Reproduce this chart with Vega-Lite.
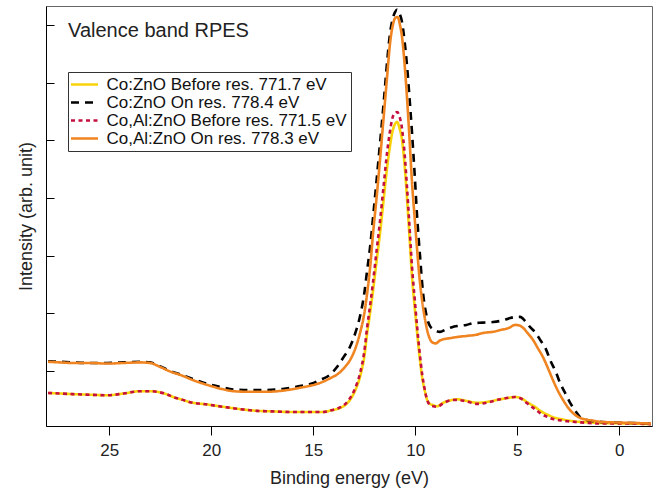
{
"$schema": "https://vega.github.io/schema/vega-lite/v6.json",
"width": 606, "height": 420,
"autosize": {"type": "none"},
"padding": {"left": 46, "top": 6, "right": 4, "bottom": 66},
"config": {"font": "Liberation Sans", "view": {"stroke": "#666", "strokeWidth": 1}},
"datasets": {"spec": [
{"s":"a","E":28.0,"I":0.62},{"s":"a","E":27.4,"I":0.61},{"s":"a","E":26.8,"I":0.60},{"s":"a","E":26.0,"I":0.59},{"s":"a","E":25.1,"I":0.58},{"s":"a","E":24.3,"I":0.61},{"s":"a","E":23.5,"I":0.65},{"s":"a","E":23.0,"I":0.65},{"s":"a","E":22.66,"I":0.64},{"s":"a","E":22.2,"I":0.60},{"s":"a","E":21.87,"I":0.55},{"s":"a","E":21.4,"I":0.50},{"s":"a","E":21.04,"I":0.46},{"s":"a","E":20.2,"I":0.42},{"s":"a","E":19.42,"I":0.38},{"s":"a","E":18.6,"I":0.34},{"s":"a","E":17.76,"I":0.31},{"s":"a","E":17.0,"I":0.30},{"s":"a","E":16.14,"I":0.29},{"s":"a","E":15.3,"I":0.29},{"s":"a","E":14.52,"I":0.29},{"s":"a","E":14.1,"I":0.32},{"s":"a","E":13.69,"I":0.36},{"s":"a","E":13.4,"I":0.42},{"s":"a","E":13.2,"I":0.50},{"s":"a","E":12.95,"I":0.66},{"s":"a","E":12.71,"I":0.90},{"s":"a","E":12.5,"I":1.25},{"s":"a","E":12.36,"I":1.66},{"s":"a","E":12.2,"I":2.05},{"s":"a","E":12.07,"I":2.40},{"s":"a","E":11.9,"I":2.90},{"s":"a","E":11.73,"I":3.39},{"s":"a","E":11.55,"I":3.98},{"s":"a","E":11.38,"I":4.54},{"s":"a","E":11.25,"I":4.88},{"s":"a","E":11.14,"I":5.12},{"s":"a","E":11.0,"I":5.28},{"s":"a","E":10.89,"I":5.32},{"s":"a","E":10.78,"I":5.22},{"s":"a","E":10.65,"I":5.0},{"s":"a","E":10.52,"I":4.55},{"s":"a","E":10.40,"I":3.96},{"s":"a","E":10.28,"I":3.30},{"s":"a","E":10.16,"I":2.63},{"s":"a","E":10.03,"I":2.1},{"s":"a","E":9.91,"I":1.66},{"s":"a","E":9.79,"I":1.25},{"s":"a","E":9.67,"I":0.90},{"s":"a","E":9.55,"I":0.68},{"s":"a","E":9.42,"I":0.50},{"s":"a","E":9.28,"I":0.43},{"s":"a","E":9.13,"I":0.41},{"s":"a","E":8.93,"I":0.39},{"s":"a","E":8.64,"I":0.45},{"s":"a","E":8.3,"I":0.49},{"s":"a","E":7.95,"I":0.51},{"s":"a","E":7.46,"I":0.48},{"s":"a","E":6.97,"I":0.45},{"s":"a","E":6.4,"I":0.47},{"s":"a","E":5.84,"I":0.51},{"s":"a","E":5.35,"I":0.54},{"s":"a","E":5.11,"I":0.55},{"s":"a","E":4.72,"I":0.51},{"s":"a","E":4.52,"I":0.46},{"s":"a","E":4.1,"I":0.37},{"s":"a","E":3.88,"I":0.31},{"s":"a","E":3.5,"I":0.24},{"s":"a","E":3.25,"I":0.20},{"s":"a","E":2.76,"I":0.16},{"s":"a","E":2.27,"I":0.13},{"s":"a","E":1.5,"I":0.11},{"s":"a","E":0.94,"I":0.10},{"s":"a","E":-0.5,"I":0.09},{"s":"a","E":-1.55,"I":0.08},
{"s":"b","E":28.0,"I":1.17},{"s":"b","E":27.4,"I":1.16},{"s":"b","E":26.8,"I":1.15},{"s":"b","E":26.0,"I":1.14},{"s":"b","E":25.1,"I":1.14},{"s":"b","E":24.3,"I":1.15},{"s":"b","E":23.5,"I":1.16},{"s":"b","E":23.0,"I":1.15},{"s":"b","E":22.5,"I":1.08},{"s":"b","E":22.0,"I":1.0},{"s":"b","E":21.5,"I":0.94},{"s":"b","E":20.8,"I":0.85},{"s":"b","E":20.2,"I":0.78},{"s":"b","E":19.5,"I":0.72},{"s":"b","E":18.9,"I":0.68},{"s":"b","E":18.1,"I":0.67},{"s":"b","E":17.3,"I":0.67},{"s":"b","E":16.5,"I":0.69},{"s":"b","E":15.65,"I":0.74},{"s":"b","E":15.1,"I":0.78},{"s":"b","E":14.7,"I":0.84},{"s":"b","E":14.2,"I":0.93},{"s":"b","E":13.84,"I":1.07},{"s":"b","E":13.5,"I":1.25},{"s":"b","E":13.2,"I":1.42},{"s":"b","E":12.95,"I":1.65},{"s":"b","E":12.71,"I":1.95},{"s":"b","E":12.5,"I":2.35},{"s":"b","E":12.36,"I":2.75},{"s":"b","E":12.2,"I":3.2},{"s":"b","E":12.07,"I":3.67},{"s":"b","E":11.9,"I":4.3},{"s":"b","E":11.73,"I":4.95},{"s":"b","E":11.6,"I":5.45},{"s":"b","E":11.48,"I":5.95},{"s":"b","E":11.36,"I":6.45},{"s":"b","E":11.24,"I":6.85},{"s":"b","E":11.1,"I":7.12},{"s":"b","E":11.0,"I":7.22},{"s":"b","E":10.89,"I":7.27},{"s":"b","E":10.77,"I":7.2},{"s":"b","E":10.65,"I":7.05},{"s":"b","E":10.52,"I":6.7},{"s":"b","E":10.40,"I":6.27},{"s":"b","E":10.28,"I":5.72},{"s":"b","E":10.16,"I":5.12},{"s":"b","E":10.03,"I":4.4},{"s":"b","E":9.91,"I":3.67},{"s":"b","E":9.77,"I":3.0},{"s":"b","E":9.62,"I":2.35},{"s":"b","E":9.5,"I":2.05},{"s":"b","E":9.37,"I":1.85},{"s":"b","E":9.28,"I":1.78},{"s":"b","E":9.1,"I":1.72},{"s":"b","E":8.79,"I":1.68},{"s":"b","E":8.5,"I":1.72},{"s":"b","E":8.2,"I":1.76},{"s":"b","E":7.95,"I":1.78},{"s":"b","E":7.5,"I":1.80},{"s":"b","E":7.17,"I":1.83},{"s":"b","E":6.7,"I":1.84},{"s":"b","E":6.19,"I":1.85},{"s":"b","E":5.7,"I":1.88},{"s":"b","E":5.35,"I":1.92},{"s":"b","E":5.0,"I":1.94},{"s":"b","E":4.86,"I":1.94},{"s":"b","E":4.6,"I":1.86},{"s":"b","E":4.37,"I":1.76},{"s":"b","E":4.1,"I":1.66},{"s":"b","E":3.88,"I":1.54},{"s":"b","E":3.6,"I":1.38},{"s":"b","E":3.39,"I":1.19},{"s":"b","E":3.1,"I":0.97},{"s":"b","E":2.9,"I":0.79},{"s":"b","E":2.6,"I":0.58},{"s":"b","E":2.41,"I":0.45},{"s":"b","E":2.1,"I":0.28},{"s":"b","E":1.92,"I":0.20},{"s":"b","E":1.6,"I":0.15},{"s":"b","E":1.29,"I":0.13},{"s":"b","E":0.5,"I":0.11},{"s":"b","E":-0.5,"I":0.10},{"s":"b","E":-1.55,"I":0.09},
{"s":"c","E":28.0,"I":0.62},{"s":"c","E":27.4,"I":0.61},{"s":"c","E":26.8,"I":0.60},{"s":"c","E":26.0,"I":0.59},{"s":"c","E":25.1,"I":0.58},{"s":"c","E":24.3,"I":0.61},{"s":"c","E":23.5,"I":0.65},{"s":"c","E":23.0,"I":0.65},{"s":"c","E":22.66,"I":0.64},{"s":"c","E":22.2,"I":0.60},{"s":"c","E":21.87,"I":0.55},{"s":"c","E":21.4,"I":0.50},{"s":"c","E":21.04,"I":0.46},{"s":"c","E":20.2,"I":0.42},{"s":"c","E":19.42,"I":0.38},{"s":"c","E":18.6,"I":0.34},{"s":"c","E":17.76,"I":0.31},{"s":"c","E":17.0,"I":0.30},{"s":"c","E":16.14,"I":0.29},{"s":"c","E":15.3,"I":0.29},{"s":"c","E":14.52,"I":0.29},{"s":"c","E":14.1,"I":0.32},{"s":"c","E":13.69,"I":0.37},{"s":"c","E":13.4,"I":0.44},{"s":"c","E":13.2,"I":0.53},{"s":"c","E":12.95,"I":0.70},{"s":"c","E":12.71,"I":0.96},{"s":"c","E":12.5,"I":1.34},{"s":"c","E":12.36,"I":1.76},{"s":"c","E":12.2,"I":2.18},{"s":"c","E":12.07,"I":2.55},{"s":"c","E":11.9,"I":3.08},{"s":"c","E":11.73,"I":3.60},{"s":"c","E":11.55,"I":4.22},{"s":"c","E":11.38,"I":4.80},{"s":"c","E":11.25,"I":5.14},{"s":"c","E":11.14,"I":5.36},{"s":"c","E":11.0,"I":5.48},{"s":"c","E":10.89,"I":5.49},{"s":"c","E":10.78,"I":5.42},{"s":"c","E":10.65,"I":5.2},{"s":"c","E":10.52,"I":4.75},{"s":"c","E":10.40,"I":4.15},{"s":"c","E":10.28,"I":3.48},{"s":"c","E":10.16,"I":2.80},{"s":"c","E":10.03,"I":2.25},{"s":"c","E":9.91,"I":1.76},{"s":"c","E":9.79,"I":1.33},{"s":"c","E":9.67,"I":0.96},{"s":"c","E":9.55,"I":0.70},{"s":"c","E":9.42,"I":0.50},{"s":"c","E":9.28,"I":0.41},{"s":"c","E":9.13,"I":0.39},{"s":"c","E":8.93,"I":0.38},{"s":"c","E":8.64,"I":0.44},{"s":"c","E":8.3,"I":0.49},{"s":"c","E":7.95,"I":0.50},{"s":"c","E":7.46,"I":0.47},{"s":"c","E":6.97,"I":0.43},{"s":"c","E":6.4,"I":0.46},{"s":"c","E":5.84,"I":0.51},{"s":"c","E":5.35,"I":0.54},{"s":"c","E":5.11,"I":0.55},{"s":"c","E":4.72,"I":0.50},{"s":"c","E":4.52,"I":0.44},{"s":"c","E":4.1,"I":0.33},{"s":"c","E":3.88,"I":0.27},{"s":"c","E":3.5,"I":0.20},{"s":"c","E":3.25,"I":0.17},{"s":"c","E":2.76,"I":0.14},{"s":"c","E":2.27,"I":0.12},{"s":"c","E":1.5,"I":0.10},{"s":"c","E":0.94,"I":0.09},{"s":"c","E":-0.5,"I":0.09},{"s":"c","E":-1.55,"I":0.08},
{"s":"d","E":28.0,"I":1.16},{"s":"d","E":27.4,"I":1.15},{"s":"d","E":26.8,"I":1.14},{"s":"d","E":26.0,"I":1.14},{"s":"d","E":25.1,"I":1.13},{"s":"d","E":24.3,"I":1.14},{"s":"d","E":23.5,"I":1.15},{"s":"d","E":23.0,"I":1.14},{"s":"d","E":22.5,"I":1.07},{"s":"d","E":22.0,"I":0.99},{"s":"d","E":21.5,"I":0.93},{"s":"d","E":20.8,"I":0.83},{"s":"d","E":20.2,"I":0.76},{"s":"d","E":19.5,"I":0.69},{"s":"d","E":18.9,"I":0.65},{"s":"d","E":18.1,"I":0.64},{"s":"d","E":17.3,"I":0.64},{"s":"d","E":16.5,"I":0.66},{"s":"d","E":15.65,"I":0.71},{"s":"d","E":15.1,"I":0.75},{"s":"d","E":14.7,"I":0.79},{"s":"d","E":14.2,"I":0.87},{"s":"d","E":13.69,"I":0.98},{"s":"d","E":13.45,"I":1.07},{"s":"d","E":13.2,"I":1.19},{"s":"d","E":12.95,"I":1.38},{"s":"d","E":12.71,"I":1.66},{"s":"d","E":12.5,"I":2.0},{"s":"d","E":12.36,"I":2.35},{"s":"d","E":12.2,"I":2.85},{"s":"d","E":12.07,"I":3.39},{"s":"d","E":11.9,"I":4.0},{"s":"d","E":11.73,"I":4.66},{"s":"d","E":11.6,"I":5.2},{"s":"d","E":11.48,"I":5.70},{"s":"d","E":11.36,"I":6.2},{"s":"d","E":11.24,"I":6.68},{"s":"d","E":11.1,"I":7.0},{"s":"d","E":10.99,"I":7.12},{"s":"d","E":10.87,"I":7.14},{"s":"d","E":10.75,"I":7.0},{"s":"d","E":10.65,"I":6.79},{"s":"d","E":10.52,"I":6.3},{"s":"d","E":10.40,"I":5.70},{"s":"d","E":10.28,"I":5.0},{"s":"d","E":10.16,"I":4.26},{"s":"d","E":10.03,"I":3.65},{"s":"d","E":9.91,"I":3.10},{"s":"d","E":9.79,"I":2.6},{"s":"d","E":9.67,"I":2.23},{"s":"d","E":9.55,"I":1.95},{"s":"d","E":9.42,"I":1.71},{"s":"d","E":9.3,"I":1.57},{"s":"d","E":9.18,"I":1.50},{"s":"d","E":9.0,"I":1.48},{"s":"d","E":8.79,"I":1.53},{"s":"d","E":8.5,"I":1.56},{"s":"d","E":8.3,"I":1.57},{"s":"d","E":7.95,"I":1.59},{"s":"d","E":7.46,"I":1.61},{"s":"d","E":7.0,"I":1.63},{"s":"d","E":6.68,"I":1.66},{"s":"d","E":6.2,"I":1.68},{"s":"d","E":5.84,"I":1.71},{"s":"d","E":5.4,"I":1.75},{"s":"d","E":5.11,"I":1.80},{"s":"d","E":4.9,"I":1.79},{"s":"d","E":4.72,"I":1.75},{"s":"d","E":4.5,"I":1.66},{"s":"d","E":4.23,"I":1.54},{"s":"d","E":4.0,"I":1.40},{"s":"d","E":3.74,"I":1.24},{"s":"d","E":3.5,"I":1.05},{"s":"d","E":3.25,"I":0.84},{"s":"d","E":3.0,"I":0.65},{"s":"d","E":2.76,"I":0.50},{"s":"d","E":2.5,"I":0.36},{"s":"d","E":2.27,"I":0.27},{"s":"d","E":2.0,"I":0.20},{"s":"d","E":1.78,"I":0.17},{"s":"d","E":1.3,"I":0.14},{"s":"d","E":0.94,"I":0.12},{"s":"d","E":-0.68,"I":0.10},{"s":"d","E":-1.55,"I":0.09}
]},
"layer": [
{"data": {"name": "spec"},
 "mark": {"type": "line", "interpolate": "monotone", "strokeWidth": 2.6, "clip": true},
 "encoding": {
  "x": {"field": "E", "type": "quantitative", "scale": {"domain": [28.1, -1.6], "nice": false, "zero": false},
        "axis": {"values": [25, 20, 15, 10, 5, 0], "title": "Binding energy (eV)", "grid": false, "tickSize": 9, "labelFontSize": 17, "titleFontSize": 18, "titleFontWeight": "normal", "labelPadding": 7, "titlePadding": 11, "domainColor": "#000", "tickColor": "#000", "labelColor": "#222", "titleColor": "#222", "labelFlush": false, "labelFont": "Liberation Sans", "titleFont": "Liberation Sans"}},
  "y": {"field": "I", "type": "quantitative", "scale": {"domain": [0.047, 7.33], "nice": false, "zero": false},
        "axis": {"values": [1, 2, 3, 4, 5, 6, 7], "labels": false, "grid": false, "tickSize": -8, "title": "Intensity (arb. unit)", "titleFontSize": 18, "titleFontWeight": "normal", "titlePadding": 10, "domainColor": "#000", "tickColor": "#000", "titleColor": "#222", "titleFont": "Liberation Sans"}},
  "color": {"field": "s", "type": "nominal", "scale": {"domain": ["a", "b", "c", "d"], "range": ["#F8D30A", "#000000", "#C4103F", "#EF8420"]},
            "legend": {"title": null, "orient": "none", "legendX": 22, "legendY": 66, "symbolType": "M-2.7,0L2.7,0", "symbolSize": 100, "symbolOffset": 4, "symbolStrokeWidth": 2.6, "labelFontSize": 17, "labelFont": "Liberation Sans", "labelColor": "#111", "labelOffset": 13.5, "labelLimit": 500, "padding": 4, "rowPadding": 0, "strokeColor": "#333", "fillColor": "white", "labelExpr": "{'a': 'Co:ZnO Before res. 771.7 eV', 'b': 'Co:ZnO On res. 778.4 eV', 'c': 'Co,Al:ZnO Before res. 771.5 eV', 'd': 'Co,Al:ZnO On res. 778.3 eV'}[datum.label]"}},
  "strokeDash": {"field": "s", "type": "nominal", "scale": {"domain": ["a", "b", "c", "d"], "range": [[1, 0], [8, 6], [4, 3.5], [1, 0]]},
            "legend": {"title": null, "orient": "none", "legendX": 22, "legendY": 66, "symbolType": "M-2.7,0L2.7,0", "symbolSize": 100, "symbolOffset": 4, "symbolStrokeWidth": 2.6, "labelFontSize": 17, "labelFont": "Liberation Sans", "labelColor": "#111", "labelOffset": 13.5, "labelLimit": 500, "padding": 4, "rowPadding": 0, "strokeColor": "#333", "fillColor": "white", "labelExpr": "{'a': 'Co:ZnO Before res. 771.7 eV', 'b': 'Co:ZnO On res. 778.4 eV', 'c': 'Co,Al:ZnO Before res. 771.5 eV', 'd': 'Co,Al:ZnO On res. 778.3 eV'}[datum.label]"}},
  "order": {"field": "E", "sort": "descending"}
 }},
{"data": {"values": [{"label": "Valence band RPES"}]},
 "mark": {"type": "text", "align": "left", "baseline": "alphabetic", "fontSize": 20, "font": "Liberation Sans", "color": "#222"},
 "encoding": {"x": {"datum": 27.02}, "y": {"datum": 6.79}, "text": {"field": "label"}}}
]
}
